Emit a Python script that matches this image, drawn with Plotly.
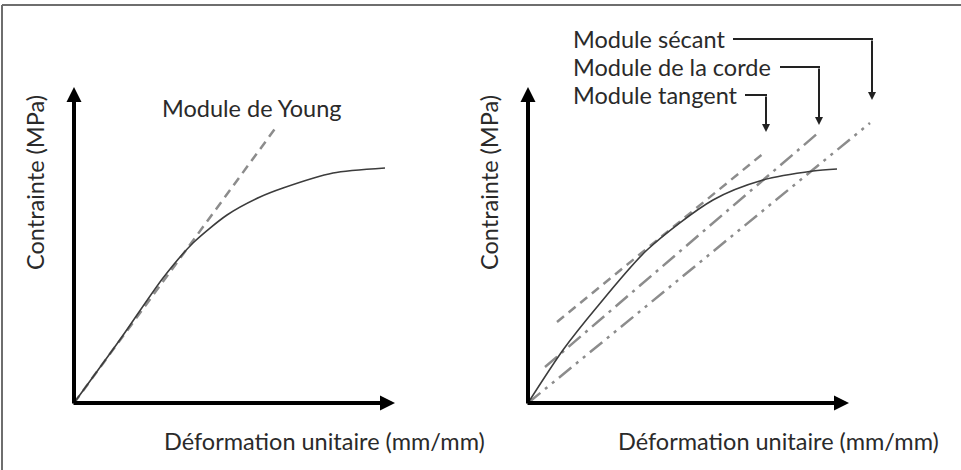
import plotly.graph_objects as go

# ---------------- data (schematic units) ----------------
left_strain = [0, 45, 89, 119, 153, 186, 209, 259, 311]
left_stress = [0, 62, 125, 160, 188, 206, 215, 230, 235]
young_strain = [0, 203]
young_stress = [0, 277]

right_strain = [0, 35, 69, 119, 185, 235, 285, 309]
right_stress = [0, 53, 96, 153, 203, 223, 232, 234]
tangent_strain = [29, 237]
tangent_stress = [81, 251]
chord_strain = [17, 290]
chord_stress = [36, 270]
secant_strain = [0, 342]
secant_stress = [0, 280]

axis_len_x = 321
axis_len_y = 316

x_title = "Déformation unitaire (mm/mm)"
y_title = "Contrainte (MPa)"
young_label = "Module de Young"
right_labels = ["Module sécant", "Module de la corde", "Module tangent"]

W, H = 961, 470
FONT = "Lato, 'Open Sans', sans-serif"
FS = 23.5
TXT = "#2a2a2a"
CURVE = "#3c3c3c"
GREY = "#8c8c8c"

fig = go.Figure()

# left panel
fig.add_trace(go.Scatter(x=young_strain, y=young_stress, mode="lines",
                         line=dict(color=GREY, width=2.5, dash="9px,6px"),
                         xaxis="x", yaxis="y", hoverinfo="skip"))
fig.add_trace(go.Scatter(x=left_strain, y=left_stress, mode="lines",
                         line=dict(color=CURVE, width=1.6, shape="spline", smoothing=0.7),
                         xaxis="x", yaxis="y", hoverinfo="skip"))

# right panel
fig.add_trace(go.Scatter(x=tangent_strain, y=tangent_stress, mode="lines",
                         line=dict(color=GREY, width=2.5, dash="9px,6px"),
                         xaxis="x2", yaxis="y2", hoverinfo="skip"))
fig.add_trace(go.Scatter(x=chord_strain, y=chord_stress, mode="lines",
                         line=dict(color=GREY, width=2.5, dash="16px,6px,3px,6px"),
                         xaxis="x2", yaxis="y2", hoverinfo="skip"))
fig.add_trace(go.Scatter(x=secant_strain, y=secant_stress, mode="lines",
                         line=dict(color=GREY, width=2.5, dash="16px,6px,3px,6px,3px,6px"),
                         xaxis="x2", yaxis="y2", hoverinfo="skip"))
fig.add_trace(go.Scatter(x=right_strain, y=right_stress, mode="lines",
                         line=dict(color=CURVE, width=1.6, shape="spline", smoothing=0.8),
                         xaxis="x2", yaxis="y2", hoverinfo="skip"))

ax_common = dict(visible=False, showgrid=False, zeroline=False, fixedrange=True)
fig.update_layout(
    width=W, height=H,
    margin=dict(l=0, r=0, t=0, b=0),
    paper_bgcolor="white", plot_bgcolor="white",
    showlegend=False,
    xaxis=dict(domain=[0, 480 / W], range=[-74, 406], **ax_common),
    yaxis=dict(domain=[0, 1], range=[-67, 403], **ax_common),
    xaxis2=dict(domain=[480 / W, 1], range=[-48, 433], anchor="y2", **ax_common),
    yaxis2=dict(domain=[0, 1], range=[-67, 403], anchor="x2", **ax_common),
)

annotations = []
for xr, yr in (("x", "y"), ("x2", "y2")):
    # axis arrows
    annotations.append(dict(x=axis_len_x, y=0, ax=-2, ay=0, xref=xr, yref=yr,
                            axref=xr, ayref=yr, text="", showarrow=True,
                            arrowhead=2, arrowwidth=4, arrowsize=0.75,
                            arrowcolor="black"))
    annotations.append(dict(x=0, y=axis_len_y, ax=0, ay=-2, xref=xr, yref=yr,
                            axref=xr, ayref=yr, text="", showarrow=True,
                            arrowhead=2, arrowwidth=4, arrowsize=0.75,
                            arrowcolor="black"))
    # titles
    annotations.append(dict(x=axis_len_x / 2 + 90, y=-38, xref=xr, yref=yr,
                            text=x_title, showarrow=False,
                            font=dict(family=FONT, size=FS, color=TXT)))
    annotations.append(dict(x=-39, y=220, xref=xr, yref=yr, text=y_title,
                            textangle=-90, showarrow=False,
                            font=dict(family=FONT, size=FS, color=TXT)))

annotations.append(dict(x=178, y=295, xref="x", yref="y", text=young_label,
                        showarrow=False, font=dict(family=FONT, size=FS, color=TXT)))

label_y = [364, 336, 308]
elbow_start = [205, 252, 217]
tip_x = [secant_strain[-1] + 2, chord_strain[-1] + 1, tangent_strain[-1] + 1]
tip_y = [303, 278, 271]
shapes = []
for txt, ly, xs, tx, ty in zip(right_labels, label_y, elbow_start, tip_x, tip_y):
    annotations.append(dict(x=43, y=ly, xref="x2", yref="y2", text=txt,
                            xanchor="left", showarrow=False,
                            font=dict(family=FONT, size=FS, color=TXT)))
    shapes.append(dict(type="line", x0=xs, x1=tx + 1, y0=ly, y1=ly,
                       xref="x2", yref="y2", line=dict(color="#222", width=2)))
    annotations.append(dict(x=tx, y=ty, ax=tx, ay=ly, xref="x2", yref="y2",
                            axref="x2", ayref="y2", text="", showarrow=True,
                            arrowhead=2, arrowwidth=2, arrowsize=0.8,
                            arrowcolor="#222"))

# outer frame (top and left edges)
shapes.append(dict(type="line", xref="paper", yref="paper",
                   x0=2 / W, x1=1, y0=1 - 5 / H, y1=1 - 5 / H,
                   line=dict(color="#6e6e6e", width=2)))
shapes.append(dict(type="line", xref="paper", yref="paper",
                   x0=2 / W, x1=2 / W, y0=0, y1=1 - 5 / H,
                   line=dict(color="#6e6e6e", width=2)))

fig.update_layout(annotations=annotations, shapes=shapes)
fig.write_html("out.html", config={"displayModeBar": False, "staticPlot": True})
